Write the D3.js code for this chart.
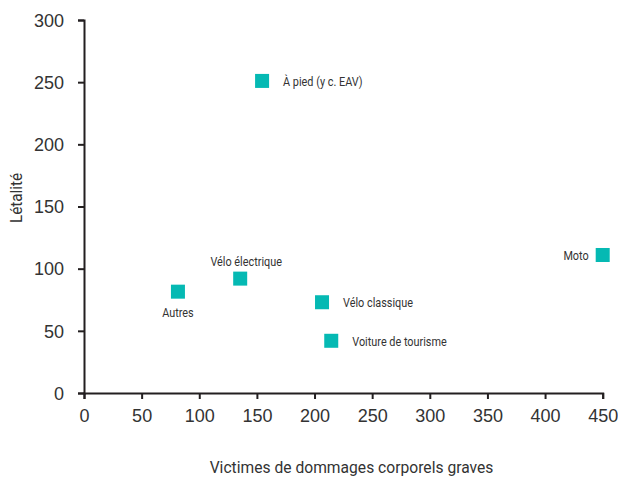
<!DOCTYPE html>
<html>
<head>
<meta charset="utf-8">
<script src="https://cdn.jsdelivr.net/npm/d3@7"></script>
<style>
html,body{margin:0;padding:0;background:#fff;}
svg{display:block;}
</style>
</head>
<body>
<svg id="chart" width="618" height="479"></svg>
<script>
const categories = ["À pied (y c. EAV)", "Vélo électrique", "Autres", "Vélo classique", "Voiture de tourisme", "Moto"];
const xValues = [154.5, 135.5, 81.5, 206.5, 214.5, 450];
const yValues = [251, 92, 81.5, 73, 42, 111];
const xTicks = [0, 50, 100, 150, 200, 250, 300, 350, 400, 450];
const yTicks = [0, 50, 100, 150, 200, 250, 300];
const xTitle = "Victimes de dommages corporels graves";
const yTitle = "Létalité";
const labelPlace = ["right", "above", "below", "right", "right", "left"];

const svg = d3.select("#chart");
const x = d3.scaleLinear().domain([0, 450]).range([84, 602.7]);
const y = d3.scaleLinear().domain([0, 300]).range([393, 20]);
const axisColor = "#231f20";
const tickFont = "'Liberation Sans', Arial, sans-serif";
const labelFont = "Roboto, sans-serif";

const gx = svg.append("g").attr("transform", `translate(0,${y(0)})`)
  .call(d3.axisBottom(x).tickValues(xTicks).tickSize(6).tickPadding(10).tickFormat(d3.format("d")));
const gy = svg.append("g").attr("transform", `translate(${x(0)},0)`)
  .call(d3.axisLeft(y).tickValues(yTicks).tickSize(6).tickPadding(14).tickFormat(d3.format("d")));
[gx, gy].forEach(g => {
  g.select(".domain").attr("stroke", axisColor).attr("stroke-width", 2);
  g.selectAll(".tick line").attr("stroke", axisColor).attr("stroke-width", 2);
  g.selectAll(".tick text").attr("fill", "#333").style("font-family", tickFont).style("font-size", "18px");
});
gy.selectAll(".tick text").attr("dy", "0.35em");

svg.append("text").attr("transform", "translate(351.5,473) scale(0.92,1)").attr("text-anchor", "middle")
  .style("font-family", labelFont).style("font-size", "17px").attr("fill", "#333").text(xTitle);
svg.append("text").attr("transform", "translate(22,198) rotate(-90) scale(0.9,1)").attr("text-anchor", "middle")
  .style("font-family", labelFont).style("font-size", "17px").attr("fill", "#333").text(yTitle);

const data = categories.map((c, i) => ({c, xv: xValues[i], yv: yValues[i], p: labelPlace[i]}));
const s = 14;
svg.append("g").selectAll("rect").data(data).join("rect")
  .attr("x", d => x(d.xv) - s/2).attr("y", d => y(d.yv) - s/2)
  .attr("width", s).attr("height", s).attr("fill", "#05b9b3");

const lx = d => d.p === "right" ? x(d.xv) + 21 : d.p === "left" ? x(d.xv) - 14 : x(d.xv) + (d.p === "above" ? 6 : 0);
const ly = d => d.p === "above" ? y(d.yv) - 13 : d.p === "below" ? y(d.yv) + 25 : y(d.yv) + 5;
svg.append("g").selectAll("text").data(data).join("text")
  .style("font-family", labelFont).style("font-size", "12.5px").attr("fill", "#333")
  .attr("text-anchor", d => d.p === "right" ? "start" : d.p === "left" ? "end" : "middle")
  .attr("transform", d => `translate(${lx(d)},${ly(d)}) scale(0.87,1)`)
  .text(d => d.c);
</script>
</body>
</html>
